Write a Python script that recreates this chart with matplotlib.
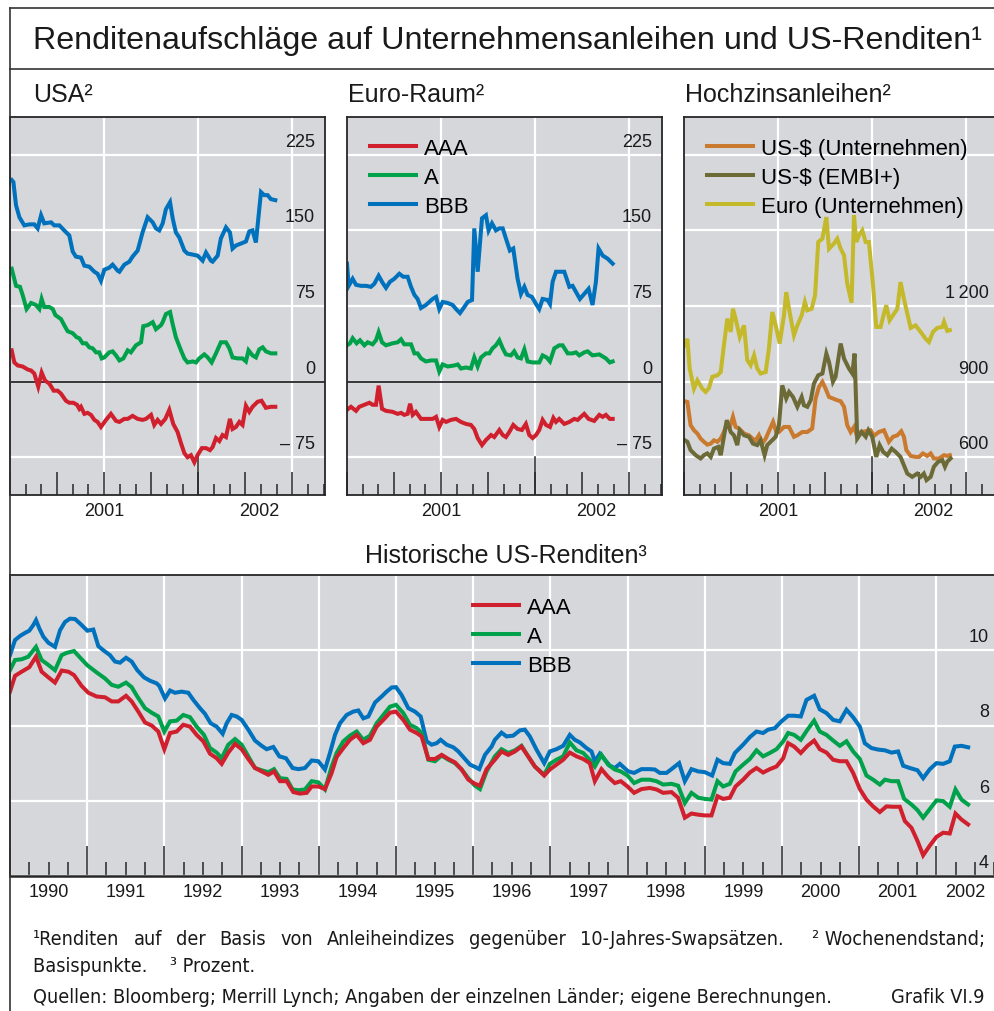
import numpy as np
import matplotlib
matplotlib.use("Agg")
import matplotlib.pyplot as plt
from matplotlib.lines import Line2D
from matplotlib.ticker import MultipleLocator

# ---------------------------------------------------------------- data
# weekly spreads, basis points (decimal year, value)
USA_AAA = [(2001.009, 31), (2001.023, 19), (2001.041, 16), (2001.067, 15), (2001.094, 12), (2001.112, 11),
           (2001.129, 8), (2001.150, -5), (2001.168, 9), (2001.186, 1), (2001.209, -2), (2001.232, -9),
           (2001.253, -9), (2001.271, -12), (2001.297, -19), (2001.315, -21), (2001.336, -21), (2001.356, -23),
           (2001.368, -27), (2001.377, -25), (2001.395, -32), (2001.412, -31), (2001.430, -33), (2001.448, -38),
           (2001.465, -40), (2001.483, -45), (2001.510, -38), (2001.536, -32), (2001.563, -39), (2001.581, -40),
           (2001.607, -37), (2001.625, -37), (2001.651, -34), (2001.678, -37), (2001.704, -38), (2001.722, -37),
           (2001.749, -33), (2001.766, -43), (2001.784, -38), (2001.802, -42), (2001.825, -37), (2001.846, -28),
           (2001.867, -42), (2001.890, -50), (2001.908, -61), (2001.926, -71), (2001.943, -75), (2001.961, -73),
           (2001.979, -80), (2001.996, -73), (2002.019, -66), (2002.041, -66), (2002.062, -68), (2002.076, -65),
           (2002.094, -56), (2002.112, -59), (2002.129, -53), (2002.147, -55), (2002.168, -37), (2002.182, -47),
           (2002.200, -45), (2002.218, -40), (2002.235, -43), (2002.253, -24), (2002.271, -30), (2002.288, -25),
           (2002.315, -20), (2002.336, -19), (2002.359, -26), (2002.386, -25), (2002.409, -25)]
USA_A = [(2001.009, 112), (2001.032, 95), (2001.053, 94), (2001.067, 86), (2001.088, 72), (2001.112, 78),
         (2001.138, 76), (2001.156, 72), (2001.168, 82), (2001.182, 74), (2001.209, 74), (2001.227, 72),
         (2001.241, 66), (2001.271, 62), (2001.288, 56), (2001.306, 50), (2001.333, 48), (2001.354, 44),
         (2001.368, 43), (2001.386, 38), (2001.404, 38), (2001.421, 34), (2001.439, 33), (2001.457, 29),
         (2001.474, 29), (2001.487, 23), (2001.501, 24), (2001.527, 29), (2001.545, 30), (2001.563, 26),
         (2001.581, 21), (2001.602, 23), (2001.625, 31), (2001.642, 29), (2001.669, 36), (2001.696, 39),
         (2001.708, 55), (2001.731, 56), (2001.758, 59), (2001.775, 52), (2001.802, 56), (2001.811, 59),
         (2001.828, 67), (2001.850, 69), (2001.864, 57), (2001.881, 44), (2001.908, 31), (2001.926, 23),
         (2001.943, 19), (2001.970, 20), (2001.988, 19), (2002.005, 23), (2002.032, 27), (2002.050, 24),
         (2002.071, 19), (2002.094, 28), (2002.120, 39), (2002.147, 39), (2002.165, 33), (2002.182, 24),
         (2002.209, 23), (2002.235, 23), (2002.253, 20), (2002.267, 31), (2002.288, 26), (2002.306, 24),
         (2002.324, 32), (2002.342, 34), (2002.359, 30), (2002.386, 28), (2002.409, 28)]
USA_BBB = [(2001.009, 200), (2001.018, 198), (2001.032, 175), (2001.050, 163), (2001.076, 155), (2001.103, 156),
           (2001.129, 156), (2001.147, 152), (2001.165, 165), (2001.182, 157), (2001.218, 158), (2001.235, 155),
           (2001.262, 155), (2001.288, 150), (2001.315, 145), (2001.333, 129), (2001.350, 124), (2001.377, 123),
           (2001.395, 115), (2001.421, 114), (2001.448, 109), (2001.465, 107), (2001.483, 100), (2001.501, 111),
           (2001.527, 113), (2001.545, 116), (2001.572, 110), (2001.581, 109), (2001.607, 116), (2001.634, 119),
           (2001.651, 124), (2001.678, 130), (2001.704, 148), (2001.731, 163), (2001.758, 158), (2001.775, 152),
           (2001.793, 150), (2001.811, 157), (2001.828, 171), (2001.850, 178), (2001.864, 162), (2001.881, 148),
           (2001.899, 143), (2001.926, 130), (2001.943, 127), (2001.970, 126), (2001.996, 125), (2002.023, 120),
           (2002.041, 128), (2002.067, 120), (2002.076, 119), (2002.103, 125), (2002.120, 142), (2002.147, 153),
           (2002.168, 148), (2002.182, 132), (2002.200, 135), (2002.227, 137), (2002.253, 139), (2002.271, 149),
           (2002.288, 150), (2002.306, 138), (2002.333, 188), (2002.350, 185), (2002.368, 185), (2002.386, 181),
           (2002.409, 180)]

EUR_AAA = [(2001.000, -28), (2001.021, -25), (2001.048, -29), (2001.065, -25), (2001.092, -23), (2001.119, -21),
           (2001.136, -23), (2001.154, -23), (2001.168, -4), (2001.186, -27), (2001.207, -29), (2001.242, -30),
           (2001.269, -32), (2001.287, -31), (2001.304, -33), (2001.322, -32), (2001.335, -22), (2001.349, -33),
           (2001.366, -30), (2001.393, -37), (2001.419, -37), (2001.455, -37), (2001.473, -35), (2001.490, -45),
           (2001.508, -38), (2001.526, -40), (2001.552, -38), (2001.579, -37), (2001.605, -40), (2001.632, -42),
           (2001.658, -43), (2001.676, -47), (2001.694, -56), (2001.717, -63), (2001.738, -58), (2001.765, -53),
           (2001.782, -55), (2001.809, -48), (2001.827, -53), (2001.844, -55), (2001.862, -50), (2001.883, -43),
           (2001.906, -47), (2001.929, -48), (2001.950, -42), (2001.968, -53), (2001.986, -56), (2002.004, -53),
           (2002.021, -48), (2002.039, -38), (2002.057, -43), (2002.078, -45), (2002.096, -36), (2002.110, -40),
           (2002.127, -37), (2002.154, -42), (2002.181, -40), (2002.207, -37), (2002.225, -38), (2002.242, -35),
           (2002.260, -32), (2002.283, -37), (2002.313, -39), (2002.340, -33), (2002.358, -35), (2002.375, -33),
           (2002.396, -37), (2002.411, -37)]
EUR_A = [(2001.000, 36), (2001.016, 38), (2001.030, 43), (2001.051, 38), (2001.069, 41), (2001.092, 36),
         (2001.110, 39), (2001.136, 37), (2001.154, 41), (2001.168, 49), (2001.186, 39), (2001.207, 36),
         (2001.242, 38), (2001.269, 39), (2001.287, 42), (2001.304, 37), (2001.340, 37), (2001.358, 28),
         (2001.375, 28), (2001.393, 23), (2001.419, 20), (2001.446, 21), (2001.473, 21), (2001.490, 10),
         (2001.508, 17), (2001.535, 15), (2001.570, 16), (2001.588, 17), (2001.605, 13), (2001.632, 14),
         (2001.658, 13), (2001.676, 24), (2001.694, 15), (2001.712, 24), (2001.738, 28), (2001.756, 28),
         (2001.773, 33), (2001.791, 36), (2001.809, 41), (2001.827, 33), (2001.844, 27), (2001.871, 26),
         (2001.888, 30), (2001.906, 24), (2001.924, 23), (2001.942, 32), (2001.959, 20), (2001.986, 19),
         (2002.021, 19), (2002.039, 26), (2002.060, 24), (2002.078, 20), (2002.101, 33), (2002.127, 36),
         (2002.145, 36), (2002.172, 28), (2002.198, 28), (2002.216, 29), (2002.234, 26), (2002.260, 29),
         (2002.278, 30), (2002.304, 26), (2002.340, 27), (2002.375, 23), (2002.396, 19), (2002.411, 20)]
EUR_BBB = [(2001.000, 117), (2001.009, 95), (2001.030, 102), (2001.048, 96), (2001.074, 95), (2001.101, 95),
           (2001.127, 94), (2001.145, 97), (2001.168, 105), (2001.189, 98), (2001.207, 93), (2001.228, 99),
           (2001.251, 102), (2001.278, 107), (2001.299, 104), (2001.322, 104), (2001.340, 94), (2001.358, 86),
           (2001.375, 82), (2001.393, 73), (2001.419, 76), (2001.437, 79), (2001.455, 82), (2001.473, 84),
           (2001.490, 72), (2001.508, 79), (2001.535, 78), (2001.561, 76), (2001.579, 72), (2001.600, 68),
           (2001.623, 74), (2001.641, 79), (2001.664, 81), (2001.676, 152), (2001.694, 109), (2001.717, 162),
           (2001.738, 165), (2001.752, 150), (2001.770, 157), (2001.791, 150), (2001.809, 152), (2001.827, 152),
           (2001.844, 142), (2001.865, 130), (2001.883, 132), (2001.906, 102), (2001.924, 87), (2001.942, 94),
           (2001.959, 86), (2001.982, 84), (2002.004, 77), (2002.021, 72), (2002.039, 82), (2002.065, 81),
           (2002.078, 77), (2002.092, 99), (2002.110, 109), (2002.136, 109), (2002.154, 109), (2002.181, 94),
           (2002.198, 95), (2002.216, 89), (2002.237, 82), (2002.260, 87), (2002.283, 92), (2002.304, 76),
           (2002.322, 99), (2002.336, 132), (2002.358, 125), (2002.384, 122), (2002.411, 117)]

HY_USD_CORP = [(2001.005, 822), (2001.018, 819), (2001.035, 727), (2001.053, 707), (2001.071, 694), (2001.088, 674),
               (2001.106, 661), (2001.124, 650), (2001.142, 654), (2001.159, 667), (2001.177, 661), (2001.195, 674),
               (2001.212, 700), (2001.225, 727), (2001.242, 716), (2001.260, 760), (2001.274, 720), (2001.292, 714),
               (2001.319, 694), (2001.345, 687), (2001.363, 674), (2001.381, 667), (2001.398, 687), (2001.416, 654),
               (2001.434, 674), (2001.451, 703), (2001.473, 740), (2001.490, 700), (2001.504, 700), (2001.531, 720),
               (2001.558, 720), (2001.584, 681), (2001.602, 687), (2001.628, 700), (2001.655, 700), (2001.681, 714),
               (2001.699, 833), (2001.717, 879), (2001.735, 899), (2001.752, 872), (2001.770, 839), (2001.791, 833),
               (2001.814, 826), (2001.832, 822), (2001.850, 800), (2001.867, 727), (2001.885, 700), (2001.903, 720),
               (2001.920, 681), (2001.938, 700), (2001.965, 703), (2001.991, 707), (2002.009, 685), (2002.035, 700),
               (2002.062, 707), (2002.088, 661), (2002.110, 681), (2002.133, 687), (2002.154, 703), (2002.168, 681),
               (2002.181, 628), (2002.204, 605), (2002.230, 601), (2002.248, 601), (2002.269, 615), (2002.292, 605),
               (2002.310, 615), (2002.327, 595), (2002.354, 595), (2002.381, 608), (2002.398, 605), (2002.412, 608)]
HY_USD_EMBI = [(2001.005, 667), (2001.018, 661), (2001.035, 628), (2001.062, 608), (2001.088, 595), (2001.106, 608),
               (2001.124, 615), (2001.142, 601), (2001.159, 634), (2001.182, 641), (2001.195, 608), (2001.212, 681),
               (2001.227, 747), (2001.248, 700), (2001.265, 687), (2001.283, 648), (2001.296, 707), (2001.319, 687),
               (2001.345, 681), (2001.366, 654), (2001.389, 648), (2001.407, 667), (2001.428, 608), (2001.442, 648),
               (2001.460, 661), (2001.487, 681), (2001.504, 727), (2001.522, 885), (2001.543, 833), (2001.558, 859),
               (2001.579, 839), (2001.602, 800), (2001.625, 839), (2001.637, 806), (2001.655, 800), (2001.673, 826),
               (2001.690, 892), (2001.713, 925), (2001.735, 932), (2001.756, 1011), (2001.770, 978), (2001.791, 899),
               (2001.805, 919), (2001.832, 1051), (2001.850, 991), (2001.876, 952), (2001.894, 932), (2001.906, 1011),
               (2001.920, 674), (2001.943, 700), (2001.965, 681), (2001.979, 707), (2002.000, 681), (2002.021, 601),
               (2002.039, 648), (2002.058, 621), (2002.080, 608), (2002.103, 634), (2002.124, 621), (2002.150, 601),
               (2002.168, 568), (2002.186, 535), (2002.212, 522), (2002.239, 535), (2002.257, 522), (2002.274, 535),
               (2002.288, 509), (2002.310, 522), (2002.327, 562), (2002.350, 582), (2002.372, 588), (2002.386, 562),
               (2002.398, 582), (2002.416, 595)]
HY_EUR_CORP = [(2001.005, 1044), (2001.018, 1070), (2001.030, 952), (2001.053, 872), (2001.071, 905), (2001.097, 872),
               (2001.115, 859), (2001.133, 875), (2001.150, 919), (2001.177, 925), (2001.195, 938), (2001.212, 1044),
               (2001.230, 1150), (2001.248, 1097), (2001.260, 1189), (2001.274, 1150), (2001.296, 1077), (2001.319, 1123),
               (2001.336, 985), (2001.354, 965), (2001.372, 1004), (2001.389, 952), (2001.407, 932), (2001.434, 938),
               (2001.451, 1031), (2001.469, 1176), (2001.487, 1123), (2001.508, 1051), (2001.531, 1163), (2001.543, 1255),
               (2001.561, 1176), (2001.584, 1084), (2001.602, 1123), (2001.625, 1163), (2001.642, 1216), (2001.655, 1183),
               (2001.678, 1189), (2001.696, 1242), (2001.713, 1454), (2001.735, 1467), (2001.756, 1553), (2001.770, 1427),
               (2001.796, 1447), (2001.814, 1467), (2001.832, 1427), (2001.850, 1401), (2001.867, 1289), (2001.890, 1213),
               (2001.903, 1560), (2001.915, 1454), (2001.929, 1480), (2001.947, 1500), (2001.965, 1454), (2001.982, 1454),
               (2002.004, 1282), (2002.021, 1117), (2002.044, 1117), (2002.062, 1170), (2002.074, 1203), (2002.092, 1143),
               (2002.110, 1163), (2002.133, 1189), (2002.150, 1295), (2002.168, 1229), (2002.186, 1170), (2002.204, 1113),
               (2002.230, 1123), (2002.257, 1097), (2002.283, 1070), (2002.301, 1057), (2002.322, 1097), (2002.345, 1113),
               (2002.372, 1117), (2002.381, 1137), (2002.398, 1101), (2002.412, 1104)]

# monthly US corporate yields, per cent
HIST_AAA = [(1990.000, 8.90), (1990.065, 9.32), (1990.151, 9.43), (1990.250, 9.55), (1990.337, 9.83), (1990.410, 9.43),
            (1990.497, 9.28), (1990.583, 9.14), (1990.669, 9.46), (1990.756, 9.43), (1990.829, 9.34), (1990.928, 9.05),
            (1991.015, 8.87), (1991.123, 8.77), (1991.231, 8.75), (1991.317, 8.64), (1991.403, 8.64), (1991.503, 8.79),
            (1991.576, 8.64), (1991.662, 8.37), (1991.749, 8.08), (1991.835, 8.00), (1991.921, 7.84), (1991.999, 7.37),
            (1992.073, 7.80), (1992.159, 7.84), (1992.245, 8.02), (1992.332, 7.97), (1992.418, 7.75), (1992.504, 7.58),
            (1992.591, 7.25), (1992.677, 7.13), (1992.742, 6.98), (1992.828, 7.28), (1992.915, 7.51), (1993.001, 7.37),
            (1993.087, 7.11), (1993.174, 6.87), (1993.260, 6.78), (1993.346, 6.69), (1993.420, 6.78), (1993.497, 6.52),
            (1993.584, 6.52), (1993.670, 6.23), (1993.756, 6.19), (1993.843, 6.21), (1993.908, 6.38), (1993.994, 6.38),
            (1994.080, 6.31), (1994.167, 6.74), (1994.231, 7.16), (1994.318, 7.40), (1994.404, 7.62), (1994.491, 7.75),
            (1994.577, 7.53), (1994.663, 7.62), (1994.750, 7.97), (1994.836, 8.15), (1994.922, 8.34), (1995.000, 8.37),
            (1995.095, 8.15), (1995.181, 7.89), (1995.268, 7.80), (1995.332, 7.71), (1995.419, 7.11), (1995.505, 7.11),
            (1995.592, 7.22), (1995.678, 7.11), (1995.764, 7.02), (1995.851, 6.83), (1995.937, 6.56), (1996.023, 6.45),
            (1996.088, 6.40), (1996.174, 6.84), (1996.281, 7.09), (1996.367, 7.31), (1996.454, 7.22), (1996.540, 7.31),
            (1996.626, 7.44), (1996.712, 7.18), (1996.799, 6.91), (1996.920, 6.67), (1996.993, 6.83), (1997.079, 6.96),
            (1997.166, 7.09), (1997.252, 7.28), (1997.339, 7.18), (1997.425, 7.11), (1997.511, 7.00), (1997.576, 6.52),
            (1997.662, 6.84), (1997.749, 6.63), (1997.835, 6.47), (1997.912, 6.52), (1997.999, 6.38), (1998.085, 6.21),
            (1998.180, 6.31), (1998.288, 6.34), (1998.375, 6.30), (1998.461, 6.21), (1998.569, 6.23), (1998.655, 6.08),
            (1998.742, 5.55), (1998.828, 5.66), (1998.915, 5.63), (1999.001, 5.61), (1999.087, 5.61), (1999.165, 6.12),
            (1999.238, 6.05), (1999.325, 6.08), (1999.399, 6.38), (1999.497, 6.56), (1999.584, 6.75), (1999.670, 6.87),
            (1999.756, 6.75), (1999.843, 6.84), (1999.929, 6.91), (2000.016, 7.13), (2000.080, 7.53), (2000.158, 7.44),
            (2000.244, 7.27), (2000.331, 7.46), (2000.417, 7.60), (2000.490, 7.37), (2000.577, 7.28), (2000.663, 7.09),
            (2000.750, 7.05), (2000.836, 7.05), (2000.922, 6.74), (2001.009, 6.31), (2001.095, 6.03), (2001.181, 5.85),
            (2001.268, 5.70), (2001.354, 5.85), (2001.441, 5.84), (2001.527, 5.84), (2001.592, 5.46), (2001.678, 5.28),
            (2001.756, 4.93), (2001.829, 4.55), (2001.916, 4.81), (2002.002, 5.04), (2002.088, 5.15), (2002.174, 5.13),
            (2002.248, 5.66), (2002.326, 5.50), (2002.412, 5.37)]
HIST_A = [(1990.000, 9.47), (1990.065, 9.74), (1990.151, 9.76), (1990.237, 9.83), (1990.337, 10.09), (1990.410, 9.74),
          (1990.497, 9.61), (1990.583, 9.47), (1990.669, 9.87), (1990.734, 9.93), (1990.829, 9.98), (1990.928, 9.76),
          (1991.002, 9.60), (1991.123, 9.41), (1991.231, 9.25), (1991.317, 9.08), (1991.403, 9.03), (1991.503, 9.14),
          (1991.576, 9.02), (1991.649, 8.77), (1991.749, 8.46), (1991.835, 8.34), (1991.921, 8.24), (1991.999, 7.84),
          (1992.073, 8.11), (1992.159, 8.13), (1992.245, 8.28), (1992.332, 8.22), (1992.418, 7.97), (1992.513, 7.75),
          (1992.591, 7.40), (1992.677, 7.28), (1992.742, 7.13), (1992.828, 7.49), (1992.915, 7.64), (1993.001, 7.49),
          (1993.087, 7.18), (1993.174, 6.87), (1993.260, 6.81), (1993.346, 6.76), (1993.420, 6.84), (1993.497, 6.60),
          (1993.584, 6.58), (1993.661, 6.30), (1993.735, 6.28), (1993.821, 6.30), (1993.908, 6.52), (1993.994, 6.49),
          (1994.080, 6.30), (1994.167, 6.91), (1994.231, 7.27), (1994.318, 7.58), (1994.404, 7.73), (1994.491, 7.84),
          (1994.577, 7.62), (1994.663, 7.73), (1994.750, 8.06), (1994.836, 8.28), (1994.922, 8.50), (1995.000, 8.55),
          (1995.095, 8.33), (1995.181, 8.02), (1995.268, 7.93), (1995.332, 7.80), (1995.419, 7.09), (1995.505, 7.05),
          (1995.592, 7.20), (1995.678, 7.09), (1995.764, 7.00), (1995.851, 6.83), (1995.937, 6.60), (1996.023, 6.40),
          (1996.088, 6.31), (1996.174, 6.78), (1996.281, 7.18), (1996.367, 7.37), (1996.454, 7.27), (1996.540, 7.34),
          (1996.626, 7.46), (1996.712, 7.18), (1996.799, 6.91), (1996.920, 6.69), (1996.993, 6.98), (1997.079, 7.09),
          (1997.166, 7.18), (1997.252, 7.55), (1997.339, 7.34), (1997.425, 7.27), (1997.511, 7.09), (1997.576, 6.91),
          (1997.662, 7.22), (1997.749, 6.96), (1997.835, 6.83), (1997.912, 6.78), (1997.999, 6.67), (1998.085, 6.47),
          (1998.180, 6.56), (1998.288, 6.56), (1998.375, 6.52), (1998.461, 6.43), (1998.569, 6.45), (1998.655, 6.40),
          (1998.742, 5.94), (1998.828, 6.21), (1998.915, 6.08), (1999.001, 6.05), (1999.087, 6.03), (1999.165, 6.52),
          (1999.238, 6.38), (1999.325, 6.45), (1999.399, 6.78), (1999.497, 6.96), (1999.584, 7.11), (1999.670, 7.34),
          (1999.756, 7.18), (1999.843, 7.27), (1999.929, 7.37), (2000.016, 7.58), (2000.080, 7.80), (2000.158, 7.75),
          (2000.244, 7.62), (2000.331, 7.89), (2000.417, 8.13), (2000.490, 7.84), (2000.577, 7.75), (2000.663, 7.60),
          (2000.750, 7.46), (2000.836, 7.58), (2000.922, 7.31), (2001.009, 7.11), (2001.095, 6.67), (2001.181, 6.56),
          (2001.268, 6.43), (2001.333, 6.56), (2001.419, 6.52), (2001.505, 6.52), (2001.583, 6.05), (2001.678, 5.90),
          (2001.756, 5.75), (2001.829, 5.55), (2001.916, 5.78), (2002.002, 6.01), (2002.088, 5.99), (2002.174, 5.84),
          (2002.248, 6.30), (2002.326, 6.03), (2002.412, 5.90)]
HIST_BBB = [(1990.000, 9.87), (1990.065, 10.27), (1990.130, 10.38), (1990.194, 10.46), (1990.250, 10.52), (1990.302, 10.67),
            (1990.337, 10.80), (1990.380, 10.58), (1990.432, 10.36), (1990.497, 10.20), (1990.583, 10.09), (1990.648, 10.53),
            (1990.712, 10.75), (1990.777, 10.84), (1990.842, 10.83), (1990.907, 10.71), (1991.002, 10.52), (1991.079, 10.55),
            (1991.144, 10.11), (1991.209, 10.00), (1991.295, 9.87), (1991.360, 9.70), (1991.425, 9.67), (1991.503, 9.80),
            (1991.576, 9.70), (1991.649, 9.47), (1991.736, 9.28), (1991.813, 9.19), (1991.900, 9.12), (1991.934, 9.05),
            (1992.008, 8.72), (1992.073, 8.93), (1992.137, 8.87), (1992.224, 8.90), (1992.310, 8.87), (1992.375, 8.68),
            (1992.461, 8.46), (1992.526, 8.31), (1992.599, 8.06), (1992.677, 7.97), (1992.755, 7.78), (1992.807, 8.06),
            (1992.871, 8.28), (1992.936, 8.24), (1993.001, 8.15), (1993.087, 7.89), (1993.174, 7.60), (1993.260, 7.46),
            (1993.325, 7.37), (1993.411, 7.43), (1993.489, 7.18), (1993.575, 7.13), (1993.661, 6.87), (1993.735, 6.84),
            (1993.821, 6.87), (1993.908, 7.07), (1993.994, 7.05), (1994.080, 6.83), (1994.145, 7.27), (1994.210, 7.75),
            (1994.275, 8.06), (1994.361, 8.28), (1994.447, 8.37), (1994.512, 8.40), (1994.577, 8.19), (1994.642, 8.24),
            (1994.728, 8.61), (1994.814, 8.77), (1994.879, 8.90), (1994.944, 9.01), (1995.000, 9.02), (1995.073, 8.81),
            (1995.160, 8.46), (1995.246, 8.37), (1995.320, 8.24), (1995.397, 7.58), (1995.462, 7.49), (1995.527, 7.53),
            (1995.579, 7.62), (1995.656, 7.49), (1995.743, 7.42), (1995.808, 7.31), (1995.872, 7.16), (1995.959, 6.96),
            (1996.023, 6.90), (1996.079, 6.84), (1996.153, 7.22), (1996.239, 7.44), (1996.281, 7.62), (1996.367, 7.81),
            (1996.432, 7.71), (1996.518, 7.73), (1996.605, 7.87), (1996.669, 7.89), (1996.734, 7.71), (1996.820, 7.36),
            (1996.920, 7.00), (1996.993, 7.31), (1997.079, 7.37), (1997.166, 7.46), (1997.252, 7.75), (1997.317, 7.62),
            (1997.382, 7.55), (1997.468, 7.40), (1997.533, 7.31), (1997.576, 7.05), (1997.641, 7.25), (1997.706, 7.09),
            (1997.770, 6.93), (1997.835, 6.87), (1997.900, 6.98), (1998.008, 6.78), (1998.085, 6.74), (1998.180, 6.84),
            (1998.288, 6.84), (1998.353, 6.83), (1998.418, 6.74), (1998.504, 6.74), (1998.569, 6.84), (1998.668, 7.00),
            (1998.742, 6.52), (1998.828, 6.84), (1998.915, 6.78), (1999.001, 6.76), (1999.096, 6.67), (1999.165, 7.09),
            (1999.238, 7.00), (1999.325, 6.98), (1999.390, 7.27), (1999.497, 7.49), (1999.584, 7.69), (1999.670, 7.84),
            (1999.756, 7.80), (1999.821, 7.89), (1999.908, 7.93), (1999.994, 8.11), (2000.080, 8.26), (2000.158, 8.26),
            (2000.244, 8.24), (2000.318, 8.68), (2000.417, 8.79), (2000.490, 8.43), (2000.577, 8.33), (2000.663, 8.15),
            (2000.750, 8.11), (2000.836, 8.42), (2000.922, 8.22), (2001.009, 7.97), (2001.073, 7.53), (2001.160, 7.40),
            (2001.246, 7.36), (2001.333, 7.34), (2001.419, 7.28), (2001.505, 7.31), (2001.570, 6.93), (2001.657, 6.87),
            (2001.756, 6.81), (2001.829, 6.60), (2001.916, 6.84), (2002.002, 7.00), (2002.088, 6.98), (2002.174, 7.05),
            (2002.239, 7.44), (2002.326, 7.46), (2002.412, 7.42)]

RATING_LABELS = ["AAA", "A", "BBB"]
HY_LABELS = ["US-$ (Unternehmen)", "US-$ (EMBI+)", "Euro (Unternehmen)"]
SPREAD_TICKS = [-75, 0, 75, 150, 225]
SPREAD_LABELS = ["\u2013 75", "0", "75", "150", "225"]
HY_TICKS = [600, 900, 1200, 1500, 1800]
HY_TICK_LABELS = ["600", "900", "1\u2009200", "", ""]
HIST_TICKS = [4, 6, 8, 10]
HIST_TICK_LABELS = ["4", "6", "8", "10"]
HIST_YEARS = list(range(1990, 2003))

FOOT_1 = ["\u00b9Renditen", "auf", "der", "Basis", "von", "Anleiheindizes", "gegenüber",
          "10-Jahres-Swapsätzen.", "", "\u00b2 Wochenendstand;"]
FOOT_2 = "Basispunkte.    \u00b3 Prozent."
FOOT_3 = "Quellen: Bloomberg; Merrill Lynch; Angaben der einzelnen Länder; eigene Berechnungen."
CHART_ID = "Grafik VI.9"

# ---------------------------------------------------------------- style
W, H = 995, 1012
BG = "#d5d7da"
DARK = "#262626"
INK = "#1a1a1a"
RED, GREEN, BLUE = "#d0202e", "#00a14b", "#0071bc"
ORANGE, OLIVE, YELLOW = "#c97a2f", "#6c6a37", "#c4b92b"
LW = 2.9

plt.rcParams["font.family"] = ["Liberation Sans", "DejaVu Sans"]
fig = plt.figure(figsize=(W / 100, H / 100), dpi=100)


def box(x0, y0, x1, y1):
    return [x0 / W, 1 - y1 / H, (x1 - x0) / W, (y1 - y0) / H]


def ylabels(ax, ticks, labels, inset):
    for v, lab in zip(ticks, labels):
        if lab:
            ax.annotate(lab, xy=(1, v), xycoords=ax.get_yaxis_transform(),
                        xytext=(-inset, 9), textcoords="offset pixels",
                        ha="right", va="baseline", fontsize=13, color=INK)


def year_label(ax, x, text):
    ax.annotate(text, xy=(x, 0), xycoords=ax.get_xaxis_transform(),
                xytext=(0, -20), textcoords="offset pixels",
                ha="center", va="baseline", fontsize=13, color=INK)


def small_panel(rect, ylim, ticks, labels, zero_line, low_grid):
    ax = fig.add_axes(rect)
    ax.set_facecolor(BG)
    ax.set_xlim(2001.0, 2002.673)
    ax.set_ylim(*ylim)
    ax.set_axisbelow(True)
    ax.set_yticks(ticks)
    ax.tick_params(axis="y", length=0, labelleft=False)
    ax.grid(axis="y", color="white", lw=1.6)
    for g in (2001.5, 2002.0, 2002.5):
        ax.axvline(g, color="white", lw=1.6, zorder=0.3)
    ax.xaxis.set_major_locator(MultipleLocator(0.25))
    ax.xaxis.set_minor_locator(MultipleLocator(1 / 12))
    ax.tick_params(axis="x", which="both", direction="in", color=DARK,
                   width=1.1, labelbottom=False)
    ax.tick_params(axis="x", which="major", length=16.5)
    ax.tick_params(axis="x", which="minor", length=8)
    ax.axvline(2002.0, ymax=(low_grid - ylim[0]) / (ylim[1] - ylim[0]),
               color=DARK, lw=1.1, zorder=0.6)
    if zero_line:
        ax.axhline(0, color=DARK, lw=1.3, zorder=0.7)
    for s in ax.spines.values():
        s.set_color(DARK)
        s.set_linewidth(1.3)
    ylabels(ax, ticks, labels, 10)
    year_label(ax, 2001.5, "2001")
    year_label(ax, (2002.0 + min(ax.get_xlim()[1], 2002.652)) / 2, "2002")
    return ax


def draw(ax, series, color, label=None):
    t, v = np.array(series).T
    return ax.plot(t, v, color=color, lw=LW, label=label, solid_joinstyle="miter",
                   zorder=2)[0]


def legend(ax, handles, labels, x, y):
    ax.legend(handles, labels, loc="upper left", bbox_to_anchor=(x, y),
              frameon=False, fontsize=16, handlelength=2.05, handletextpad=0.4,
              labelspacing=0.36, borderpad=0, borderaxespad=0)


# ---------------------------------------------------------------- small panels
SPREAD_LIM = (-112.5, 262.5)
ax_us = small_panel(box(10, 118, 325, 496), SPREAD_LIM, SPREAD_TICKS, SPREAD_LABELS, True, -75)
ax_eu = small_panel(box(347, 118, 662, 496), SPREAD_LIM, SPREAD_TICKS, SPREAD_LABELS, True, -75)
ax_hy = small_panel(box(684, 118, 999, 496), (450, 1950), HY_TICKS, HY_TICK_LABELS, False, 600)

for ax, data in ((ax_us, (USA_AAA, USA_A, USA_BBB)), (ax_eu, (EUR_AAA, EUR_A, EUR_BBB))):
    h = [draw(ax, s, c) for s, c in zip(data, (RED, GREEN, BLUE))]
legend(ax_eu, h, RATING_LABELS, 0.073, 0.944)

h = [draw(ax_hy, s, c) for s, c in zip((HY_USD_CORP, HY_USD_EMBI, HY_EUR_CORP), (ORANGE, OLIVE, YELLOW))]
legend(ax_hy, h, HY_LABELS, 0.073, 0.944)

# ---------------------------------------------------------------- history panel
ax = fig.add_axes(box(10, 576, 995, 877))
ax.set_facecolor(BG)
ax.set_xlim(1990.0, 2002.76)
ax.set_ylim(4, 12)
ax.set_axisbelow(True)
ax.set_yticks(HIST_TICKS)
ax.tick_params(axis="y", length=0, labelleft=False)
ax.xaxis.set_major_locator(MultipleLocator(1))
ax.xaxis.set_minor_locator(MultipleLocator(0.25))
ax.grid(axis="both", which="major", color="white", lw=1.6)
ax.tick_params(axis="x", which="both", direction="in", color=DARK, width=1.1, labelbottom=False)
ax.tick_params(axis="x", which="major", length=21.5)
ax.tick_params(axis="x", which="minor", length=10)
ax.spines["right"].set_visible(False)
for s in ax.spines.values():
    s.set_color(DARK)
    s.set_linewidth(1.3)
ax.spines["bottom"].set_linewidth(1.8)
h = [draw(ax, s, c) for s, c in zip((HIST_BBB, HIST_A, HIST_AAA), (BLUE, GREEN, RED))]
legend(ax, h[::-1], RATING_LABELS, 0.47, 0.928)
ylabels(ax, HIST_TICKS, HIST_TICK_LABELS, 6)
for y in HIST_YEARS:
    year_label(ax, (y + min(y + 1, 2002.76)) / 2, str(y))

# ---------------------------------------------------------------- frame and texts
for xs, ys in (([10, 10], [9, H]), ([10, W], [9, 9]), ([10, W], [69.5, 69.5])):
    fig.add_artist(Line2D([x / W for x in xs], [1 - y / H for y in ys], color="#333333", lw=1.2))

fig.text(33 / W, 1 - 49 / H, "Renditenaufschläge auf Unternehmensanleihen und US-Renditen\u00b9",
         fontsize=23.2, va="baseline", color=INK)
for x, t in ((33, "USA\u00b2"), (348, "Euro-Raum\u00b2"), (685, "Hochzinsanleihen\u00b2")):
    fig.text(x / W, 1 - 102 / H, t, fontsize=18, va="baseline", color=INK)
fig.text(506 / W, 1 - 563 / H, "Historische US-Renditen\u00b3", fontsize=18, va="baseline",
         ha="center", color=INK)

FOOT = dict(family="DejaVu Sans", fontstretch="condensed", fontsize=14.2, va="baseline", color=INK)
# first footnote line is justified between the two margins
renderer = fig.canvas.get_renderer()
words = [fig.text(0, 1 - 945 / H, w, **FOOT) for w in FOOT_1]
widths = [t.get_window_extent(renderer).width if t.get_text() else 0 for t in words]
gap = (985 - 33 - sum(widths)) / (len(words) - 1)
x = 33
for t, wd in zip(words, widths):
    t.set_x(x / W)
    x += wd + gap
fig.text(33 / W, 1 - 972 / H, FOOT_2, **FOOT)
fig.text(33 / W, 1 - 1003 / H, FOOT_3, **FOOT)
fig.text(985 / W, 1 - 1003 / H, CHART_ID, ha="right", **FOOT)

fig.savefig("out.png", dpi=100)
